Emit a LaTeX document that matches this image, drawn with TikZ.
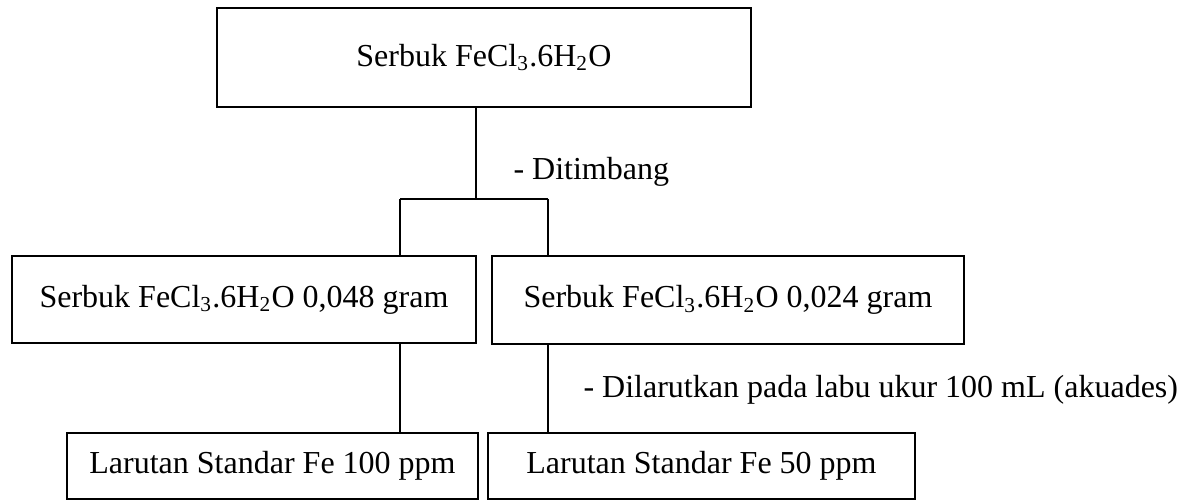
\documentclass[tikz,border=0pt]{standalone}
\usepackage{fontspec}
\setmainfont{Liberation Serif}
\begin{document}
\begin{tikzpicture}[x=0.375pt,y=-0.375pt,
  box/.style 2 args={draw, line width=0.8pt, rectangle, inner sep=0pt,
    minimum width=#1*0.375pt, minimum height=#2*0.375pt, font=\fontsize{12}{14}\selectfont},
  conn/.style={line width=0.8pt},
  lbl/.style={anchor=west, inner sep=0pt, font=\fontsize{12}{14}\selectfont}]
\useasboundingbox (0,0) rectangle (1186,501);
\node[box={534}{99}] (top) at (484,57.5) {Serbuk FeCl\textsubscript{3}.6H\textsubscript{2}O};
\node[box={464}{87}] (ml) at (244,299.5) {Serbuk FeCl\textsubscript{3}.6H\textsubscript{2}O 0,048 gram};
\node[box={472}{88}] (mr) at (728,300) {Serbuk FeCl\textsubscript{3}.6H\textsubscript{2}O 0,024 gram};
\node[box={411}{66}] (bl) at (272.5,466) {Larutan Standar Fe 100 ppm};
\node[box={427}{66}] (br) at (701.5,466) {Larutan Standar Fe 50 ppm};
\coordinate (j) at (476,199);
\coordinate (jl) at (400,199);
\coordinate (jr) at (548,199);
\draw[conn] (top.south -| j) -- (j);
\draw[conn] (jl) -- (jr);
\draw[conn] (jl) -- (ml.north -| jl);
\draw[conn] (jr) -- (mr.north -| jr);
\draw[conn] (ml.south -| jl) -- (bl.north -| jl);
\draw[conn] (mr.south -| jr) -- (br.north -| jr);
\node[lbl] (l1) at (513,172) {- Ditimbang};
\node[lbl] (l2) at (583,390) {- Dilarutkan pada labu ukur 100 mL (akuades)};
\end{tikzpicture}
\end{document}
